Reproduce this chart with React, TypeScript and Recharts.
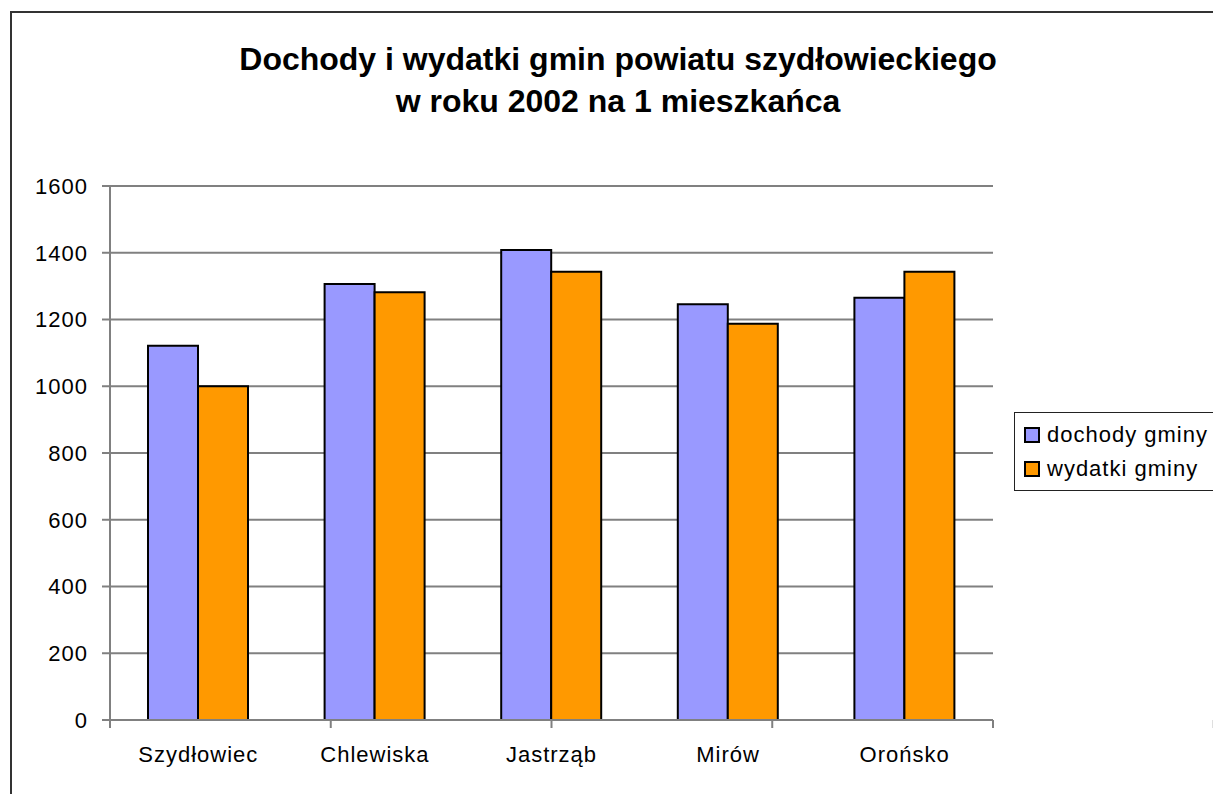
import React from 'react';
import { BarChart, Bar, XAxis, YAxis, CartesianGrid, Legend } from 'recharts';

const gminy = ['Szydłowiec', 'Chlewiska', 'Jastrząb', 'Mirów', 'Orońsko'];
const dochody = [1121, 1306, 1408, 1246, 1265];
const wydatki = [1000, 1282, 1343, 1187, 1343];
const yTicks = [0, 200, 400, 600, 800, 1000, 1200, 1400, 1600];
const boundaryTicks = [0, 1, 2, 3, 4, 5];

const seriesNames = { dochody: 'dochody gminy', wydatki: 'wydatki gminy' };
const titleLines = ['Dochody i wydatki gmin powiatu szydłowieckiego', 'w roku 2002 na 1 mieszkańca'];

const data = gminy.map((name, i) => ({ name, dochody: dochody[i], wydatki: wydatki[i] }));

const FONT = 'Arial, "Liberation Sans", sans-serif';
const PURPLE = '#9999ff';
const ORANGE = '#ff9900';
const GRID = '#808080';

const LegendBox = () => (
  <div
    style={{
      border: '1px solid #222',
      width: 220,
      height: 79,
      boxSizing: 'border-box',
      background: '#fff',
      fontFamily: FONT,
      fontSize: 22,
      letterSpacing: 1,
      color: '#000',
      paddingLeft: 9,
      paddingTop: 5,
    }}
  >
    {[
      { label: seriesNames.dochody, color: PURPLE },
      { label: seriesNames.wydatki, color: ORANGE },
    ].map((it) => (
      <div key={it.label} style={{ display: 'flex', alignItems: 'center', height: 34 }}>
        <span
          style={{
            display: 'inline-block',
            width: 12,
            height: 12,
            background: it.color,
            border: '2px solid #000',
            marginRight: 7,
          }}
        />
        <span>{it.label}</span>
      </div>
    ))}
  </div>
);

// boundary ticks only need the tick line, no label
const NoLabel = () => <g />;

export default function App() {
  return (
    <div style={{ position: 'absolute', left: 0, top: 0, width: 1213, height: 794, overflow: 'hidden', background: '#fff' }}>
      <div
        style={{
          position: 'absolute',
          left: 10,
          top: 11,
          width: 1300,
          height: 900,
          borderLeft: '2px solid #333',
          borderTop: '2px solid #333',
        }}
      />
      <div
        style={{
          position: 'absolute',
          left: 0,
          top: 38,
          width: 1236,
          textAlign: 'center',
          fontFamily: FONT,
          fontWeight: 'bold',
          fontSize: 32,
          lineHeight: '42px',
          color: '#000',
        }}
      >
        {titleLines.map((t) => (
          <div key={t}>{t}</div>
        ))}
      </div>
      <div style={{ position: 'absolute', left: 0, top: 0 }}>
        <BarChart
          width={1213}
          height={794}
          data={data}
          margin={{ top: 186, right: 220, left: 10, bottom: 24 }}
          barGap={0}
        >
          <CartesianGrid vertical={false} stroke={GRID} strokeWidth={2} xAxisId="a" />
          <XAxis
            xAxisId="a"
            type="number"
            domain={[0, 5]}
            ticks={boundaryTicks}
            allowDataOverflow
            tick={NoLabel}
            tickLine={{ stroke: GRID, strokeWidth: 2 }}
            tickSize={8}
            stroke={GRID}
            strokeWidth={2}
            height={1}
          />
          <XAxis
            xAxisId="b"
            dataKey="name"
            axisLine={false}
            tickLine={false}
            tickSize={0}
            tickMargin={25}
            height={49}
            tick={{ fill: '#000', fontSize: 22, fontFamily: FONT, letterSpacing: 1 }}
          />
          <YAxis
            domain={[0, 1600]}
            ticks={yTicks}
            width={100}
            tickSize={8}
            tickMargin={14}
            stroke={GRID}
            strokeWidth={2}
            tick={{ fill: '#000', fontSize: 22, fontFamily: FONT, letterSpacing: 1 }}
          />
          <Legend
            layout="vertical"
            align="center"
            verticalAlign="middle"
            content={<LegendBox />}
            wrapperStyle={{ position: 'absolute', left: 1014, top: 412, width: 220 }}
          />
          <Bar xAxisId="b" dataKey="dochody" name={seriesNames.dochody} fill={PURPLE} stroke="#000" strokeWidth={2} barSize={50} isAnimationActive={false} />
          <Bar xAxisId="b" dataKey="wydatki" name={seriesNames.wydatki} fill={ORANGE} stroke="#000" strokeWidth={2} barSize={50} isAnimationActive={false} />
        </BarChart>
      </div>
    </div>
  );
}
